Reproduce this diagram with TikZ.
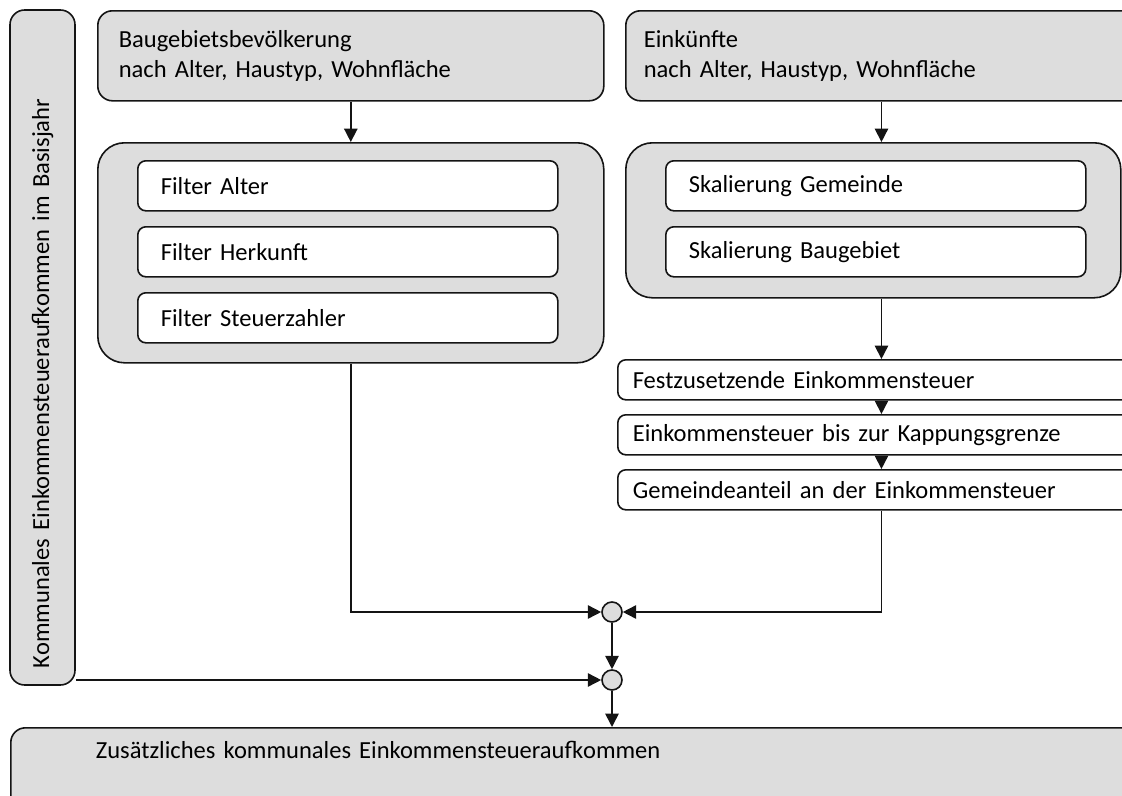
\documentclass[tikz,border=0pt]{standalone}
\usepackage{fontspec}
\setmainfont{Carlito}
\usepackage{tikz}
\usetikzlibrary{arrows.meta, positioning, calc}
\definecolor{boxgray}{RGB}{221,221,221}
\definecolor{linegray}{RGB}{20,20,20}

\tikzset{
  grbox/.style={draw=linegray, fill=boxgray, line width=1.2pt, rounded corners=11pt,
    anchor=north west, align=left, inner ysep=0pt, font=\fontsize{18.4}{22}\selectfont},
  whbox/.style={grbox, fill=white, rounded corners=6pt, minimum height=37.5pt,
    text width=280.5pt, inner xsep=17.25pt},
  taxbox/.style={grbox, fill=white, rounded corners=6pt, minimum height=30pt,
    text width=373pt, inner xsep=11.25pt},
  joinpt/.style={circle, draw=linegray, fill=boxgray, line width=1.2pt, minimum size=15pt, inner sep=0pt},
  flow/.style={-{Triangle[length=10pt,width=10pt]}, line width=1.2pt, draw=linegray}
}

\begin{document}
\begin{tikzpicture}[x=0.75pt, y=-0.75pt]
  \useasboundingbox (0,0) rectangle (1122,796);
  % left column: base year
  \node[grbox, rotate=90, anchor=center, minimum width=506.25pt, minimum height=48.75pt,
    text width=480.75pt, inner xsep=12.75pt] (basebox) at (42.5,347.5)
    {Kommunales Einkommensteueraufkommen im Basisjahr};
  % population branch
  \node[grbox, minimum height=67.5pt, text width=348pt, inner xsep=15.75pt] (popbox) at (97,10)
    {Baugebietsbevölkerung\\nach Alter, Haustyp, Wohnfläche};
  \node[grbox, rounded corners=20pt, minimum width=379.5pt, minimum height=165pt] (filtgrp) at (97,142) {};
  \node[whbox] (filtA) at (137,160) {Filter Alter};
  \node[whbox] (filtB) at (137,226) {Filter Herkunft};
  \node[whbox] (filtC) at (137,292) {Filter Steuerzahler};
  % income branch
  \node[grbox, minimum height=67.5pt, text width=357.75pt, inner xsep=13.5pt] (incbox) at (625,10)
    {Einkünfte\\nach Alter, Haustyp, Wohnfläche};
  \node[grbox, rounded corners=20pt, minimum width=371.25pt, minimum height=116.25pt] (scalgrp) at (625,142) {};
  \node[whbox] (scalA) at (665,160) {Skalierung Gemeinde};
  \node[whbox] (scalB) at (665,226) {Skalierung Baugebiet};
  % tax steps
  \node[taxbox] (taxA) at (617,359) {Festzusetzende Einkommensteuer};
  \node[taxbox] (taxB) at (617,414) {Einkommensteuer bis zur Kappungsgrenze};
  \node[taxbox] (taxC) at (617,469) {Gemeindeanteil an der Einkommensteuer};
  % result
  \node[grbox, minimum width=847.5pt, text width=783.75pt, inner xsep=63.75pt,
    text height=13pt, text depth=50pt, inner ysep=10pt] (result) at (10,727)
    {Zusätzliches kommunales Einkommensteueraufkommen};
  % joins
  \node[joinpt] (joinA) at (612,612) {};
  \node[joinpt] (joinB) at (612,680) {};

  % connectors
  \draw[flow] (popbox) -- (filtgrp);
  \draw[flow] (incbox.south -| taxA) -- (scalgrp.north -| taxA);
  \draw[flow] (scalgrp.south -| taxA) -- (taxA);
  \draw[flow] (taxA) -- (taxB);
  \draw[flow] (taxB) -- (taxC);
  \draw[flow] (filtgrp.south) |- (joinA.west);
  \draw[flow] (taxC.south) |- (joinA.east);
  \draw[flow] (joinA) -- (joinB);
  \draw[flow] (basebox.south |- joinB) -- (joinB.west);
  \draw[flow] (joinB) -- (joinB |- result.north);
\end{tikzpicture}
\end{document}
